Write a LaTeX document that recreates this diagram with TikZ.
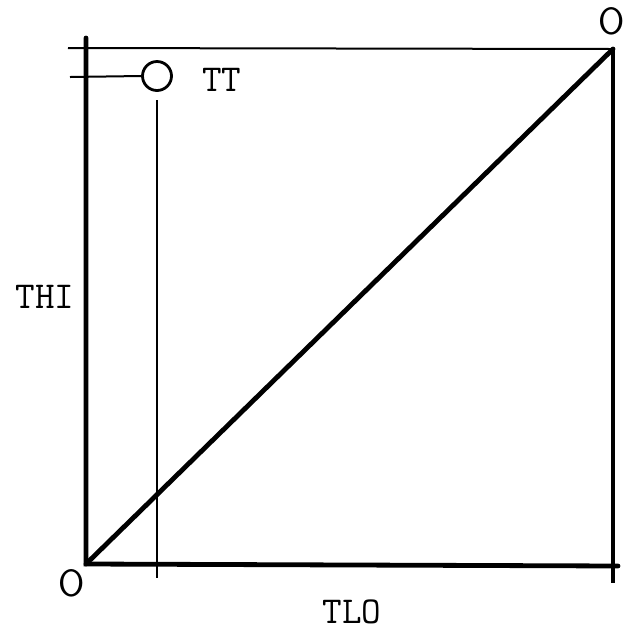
\documentclass[tikz,border=0pt]{standalone}
\usepackage{tikz}

\begin{document}
\begin{tikzpicture}[x=0.5pt,y=-0.5pt,
    axis/.style={line width=2.4pt, line cap=round},
    frame/.style={line width=1.6pt},
    rule/.style={line width=1pt},
    lbl/.style={font=\fontsize{19}{19}\selectfont\ttfamily, inner sep=0pt},
    corner/.style={font=\fontsize{19}{19}\selectfont\sffamily, inner sep=0pt}]
  \useasboundingbox (0,0) rectangle (627,634);
  \coordinate (origin) at (86,564);
  \coordinate (axistop) at (86,38);
  \coordinate (axisend) at (618,566);
  \coordinate (upper) at (613,49);
  \coordinate (rightfoot) at (613,583);
  \coordinate (topleft) at (68,48);
  \coordinate (tickleft) at (70,77);
  \coordinate (tttop) at (157,100);
  \coordinate (ttfoot) at (157,578);
  \node[draw, circle, line width=1.4pt, minimum size=14.5pt, inner sep=0pt] (tt) at (157,76) {};
  \node[lbl] (ttname) at (222,80) {TT};
  \node[lbl] (thi) at (45,297) {THI};
  \node[lbl] (tlo) at (352,612) {TLO};
  \node[corner] (low) at (72,583) {O};
  \node[corner] (high) at (612,21) {O};
  \draw[axis] (axistop) -- (origin) -- (axisend);
  \draw[axis] (origin) -- (upper);
  \draw[frame] (upper) -- (rightfoot);
  \draw[rule] (topleft) -- (upper);
  \draw[rule] (tickleft) -- (tt.west);
  \draw[rule] (tttop) -- (ttfoot);
\end{tikzpicture}
\end{document}
